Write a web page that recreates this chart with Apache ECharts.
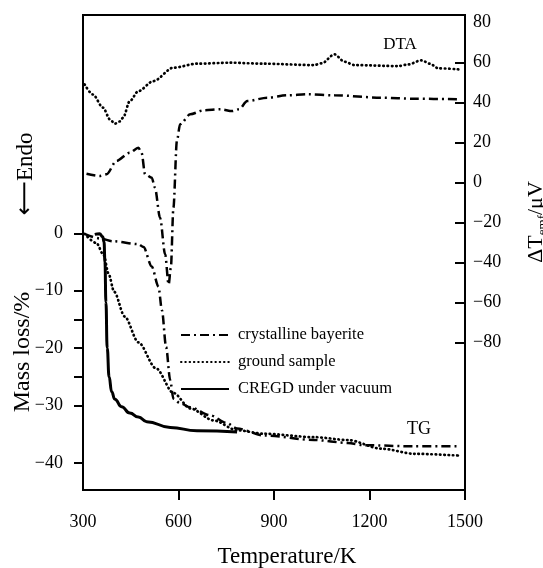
<!DOCTYPE html>
<html>
<head>
<meta charset="utf-8">
<script src="https://cdn.jsdelivr.net/npm/echarts@6/dist/echarts.min.js"></script>
<style>
html,body{margin:0;padding:0;background:#fff;}
#chart{width:543px;height:568px;}
</style>
</head>
<body>
<div id="chart"></div>
<script>
// ---- Data (temperature in K) ----
var seriesNames = ['crystalline bayerite', 'ground sample', 'CREGD under vacuum'];

// DTA, ground sample (ΔT / μV)
var dtaGroundT = [305, 331, 363, 385, 400, 415, 426, 447, 474, 521, 584, 658, 763, 868, 1026, 1050, 1090, 1121, 1153, 1290, 1321, 1363, 1390, 1416, 1479];
var dtaGroundV = [49.1, 44, 37.4, 31.5, 29.4, 30.5, 32.4, 40.7, 45.7, 50.7, 57.4, 59.4, 59.9, 59.4, 58.7, 59.6, 64.1, 60.4, 58.7, 58.2, 59.0, 61.1, 59.4, 57.1, 56.6];

// DTA, crystalline bayerite (ΔT / μV)
var dtaBayT = [311, 353, 374, 405, 447, 474, 484, 495, 516, 526, 542, 558, 569, 576, 584, 595, 605, 637, 679, 732, 769, 790, 816, 879, 942, 1005, 1090, 1237, 1342, 1479];
var dtaBayV = [4.4, 3.3, 4.1, 10.8, 14.9, 17.4, 14.9, 4.1, 2.4, -2.6, -17.6, -35.9, -51, -42.6, -12.6, 20.8, 29.1, 34.1, 36.1, 36.6, 35.7, 36.6, 40.7, 42.4, 43.6, 44.1, 43.6, 42.4, 41.9, 41.6];

// TG, crystalline bayerite (mass loss / %)
var tgBayT = [305, 353, 395, 474, 490, 516, 537, 548, 561, 574, 584, 605, 637, 700, 750, 784, 868, 1026, 1132, 1184, 1342, 1479];
var tgBayM = [-0.1, -0.9, -1.4, -1.9, -2.4, -5.8, -9.3, -13.4, -19.8, -25.6, -28.8, -29.6, -30.3, -31.7, -33.0, -34.0, -35.2, -36.0, -36.5, -36.9, -37.1, -37.1];

// TG, ground sample (mass loss / %)
var tgGroundT = [305, 342, 365, 380, 398, 431, 474, 529, 584, 637, 711, 784, 868, 1026, 1132, 1237, 1342, 1479];
var tgGroundM = [-0.1, -1.7, -3.8, -7, -10.2, -14.5, -19, -23.5, -27.8, -30.5, -32.6, -34.3, -34.9, -35.5, -36.0, -37.5, -38.4, -38.7];

// TG, CREGD under vacuum (mass loss / %)
var tgCregdT = [337, 352, 362, 366, 369, 372, 376, 382, 390, 400, 421, 447, 474, 500, 574, 658, 784];
var tgCregdM = [-0.2, -0.1, -0.6, -1.5, -5, -12, -20, -25.0, -27.6, -28.9, -30.2, -31.3, -32.0, -32.8, -33.8, -34.4, -34.6];

// Axis ticks / labels
var xTickVals = [600, 900, 1200, 1500];
var xLabelVals = [300, 600, 900, 1200, 1500];
var massTickVals = [0, -10, -15, -20, -25, -30, -40];
var massLabelVals = [0, -10, -20, -30, -40];
var dtaTickVals = [-80, -60, -40, -20, 0, 20, 40, 60];
var dtaLabelVals = [-80, -60, -40, -20, 0, 20, 40, 60, 80];

function zip(a, b) { return a.map(function (v, i) { return [v, b[i]]; }); }
var FONT = 'Liberation Serif';
var minusFmt = function (v) { return String(v).replace('-', '\u2212'); };
var plainFmt = function (v) { return String(v); };
var dashDot = [9, 4, 2, 4];
var dotted = [0.5, 3.8];
var noSym = {color: 'rgba(0,0,0,0)'};

var chart = echarts.init(document.getElementById('chart'), null, {renderer: 'canvas'});
chart.setOption({
  animation: false,
  backgroundColor: '#fff',
  grid: {left: 83, right: 78, top: 15, bottom: 78, containLabel: false, outerBoundsMode: 'none',
         show: true, borderColor: '#000', borderWidth: 2, backgroundColor: 'transparent'},
  legend: {
    data: seriesNames,
    orient: 'vertical', left: 180, top: 326.5, padding: 0,
    itemWidth: 48, itemHeight: 14, itemGap: 10,
    selectedMode: false,
    itemStyle: {opacity: 0},
    textStyle: {fontFamily: FONT, fontSize: 16.5, color: '#000', padding: [0, 0, 0, 4]}
  },
  xAxis: {
    type: 'value', min: 300, max: 1500,
    name: 'Temperature/K', nameLocation: 'middle', nameGap: 55,
    nameTextStyle: {fontFamily: FONT, fontSize: 23, color: '#000', padding: [0, 0, 0, 26]},
    axisLine: {onZero: false, lineStyle: {color: '#000', width: 2}},
    axisTick: {customValues: xTickVals, length: 10, lineStyle: {color: '#000', width: 2}},
    axisLabel: {customValues: xLabelVals, margin: 23, fontFamily: FONT, fontSize: 18, color: '#000', formatter: plainFmt},
    splitLine: {show: false}
  },
  yAxis: [{
    type: 'value', position: 'left', min: -44.7, max: 38,
    axisLine: {show: true, onZero: false, lineStyle: {color: '#000', width: 2}},
    axisTick: {show: true, customValues: massTickVals, length: 9, lineStyle: {color: '#000', width: 2}},
    axisLabel: {customValues: massLabelVals, margin: 20, fontFamily: FONT, fontSize: 18, color: '#000', formatter: minusFmt},
    splitLine: {show: false}
  }, {
    type: 'value', position: 'right', min: -153.75, max: 83.75,
    axisLine: {show: true, onZero: false, lineStyle: {color: '#000', width: 2}},
    axisTick: {show: true, inside: true, customValues: dtaTickVals, length: 10, lineStyle: {color: '#000', width: 2}},
    axisLabel: {customValues: dtaLabelVals, margin: 8, fontFamily: FONT, fontSize: 18, color: '#000', formatter: minusFmt},
    splitLine: {show: false}
  }],
  series: [{
    name: seriesNames[0], type: 'line', yAxisIndex: 0, symbol: 'none', smooth: 0.3, smoothMonotone: 'x',
    itemStyle: noSym,
    lineStyle: {color: '#000', width: 2.5, type: dashDot},
    data: zip(tgBayT, tgBayM)
  }, {
    name: seriesNames[1], type: 'line', yAxisIndex: 0, symbol: 'none', smooth: 0.3, smoothMonotone: 'x',
    itemStyle: noSym,
    lineStyle: {color: '#000', width: 2.7, type: dotted, cap: 'round'},
    data: zip(tgGroundT, tgGroundM)
  }, {
    name: seriesNames[2], type: 'line', yAxisIndex: 0, symbol: 'none', smooth: 0.5, smoothMonotone: 'x',
    itemStyle: noSym,
    lineStyle: {color: '#000', width: 3},
    data: zip(tgCregdT, tgCregdM)
  }, {
    name: seriesNames[0], type: 'line', yAxisIndex: 1, symbol: 'none', smooth: 0.3, smoothMonotone: 'x',
    itemStyle: noSym,
    lineStyle: {color: '#000', width: 2.5, type: dashDot},
    data: zip(dtaBayT, dtaBayV)
  }, {
    name: seriesNames[1], type: 'line', yAxisIndex: 1, symbol: 'none', smooth: 0.3, smoothMonotone: 'x',
    itemStyle: noSym,
    lineStyle: {color: '#000', width: 2.7, type: dotted, cap: 'round'},
    data: zip(dtaGroundT, dtaGroundV)
  }],
  graphic: [{
    type: 'text', x: 26, y: 174, rotation: Math.PI / 2,
    style: {
      text: '{arr|\u27f5}Endo', fontFamily: FONT, fontSize: 23, fill: '#000', align: 'center', verticalAlign: 'middle',
      rich: {arr: {fontFamily: 'DejaVu Sans', fontSize: 24, fill: '#000'}}
    }
  }, {
    type: 'text', x: 23, y: 352, rotation: Math.PI / 2,
    style: {text: 'Mass loss/%', fontFamily: FONT, fontSize: 24, fill: '#000', align: 'center', verticalAlign: 'middle'}
  }, {
    type: 'text', x: 536, y: 222, rotation: Math.PI / 2,
    style: {
      text: '\u0394T{sub|emf}/\u03bcV', fontFamily: FONT, fontSize: 22, fill: '#000', align: 'center', verticalAlign: 'middle',
      rich: {sub: {fontFamily: FONT, fontSize: 13, fill: '#000', verticalAlign: 'bottom', lineHeight: 26}}
    }
  }, {
    type: 'text', x: 400, y: 45,
    style: {text: 'DTA', fontFamily: FONT, fontSize: 17, fill: '#000', align: 'center', verticalAlign: 'middle'}
  }, {
    type: 'text', x: 419, y: 429,
    style: {text: 'TG', fontFamily: FONT, fontSize: 18, fill: '#000', align: 'center', verticalAlign: 'middle'}
  }]
});
</script>
</body>
</html>
